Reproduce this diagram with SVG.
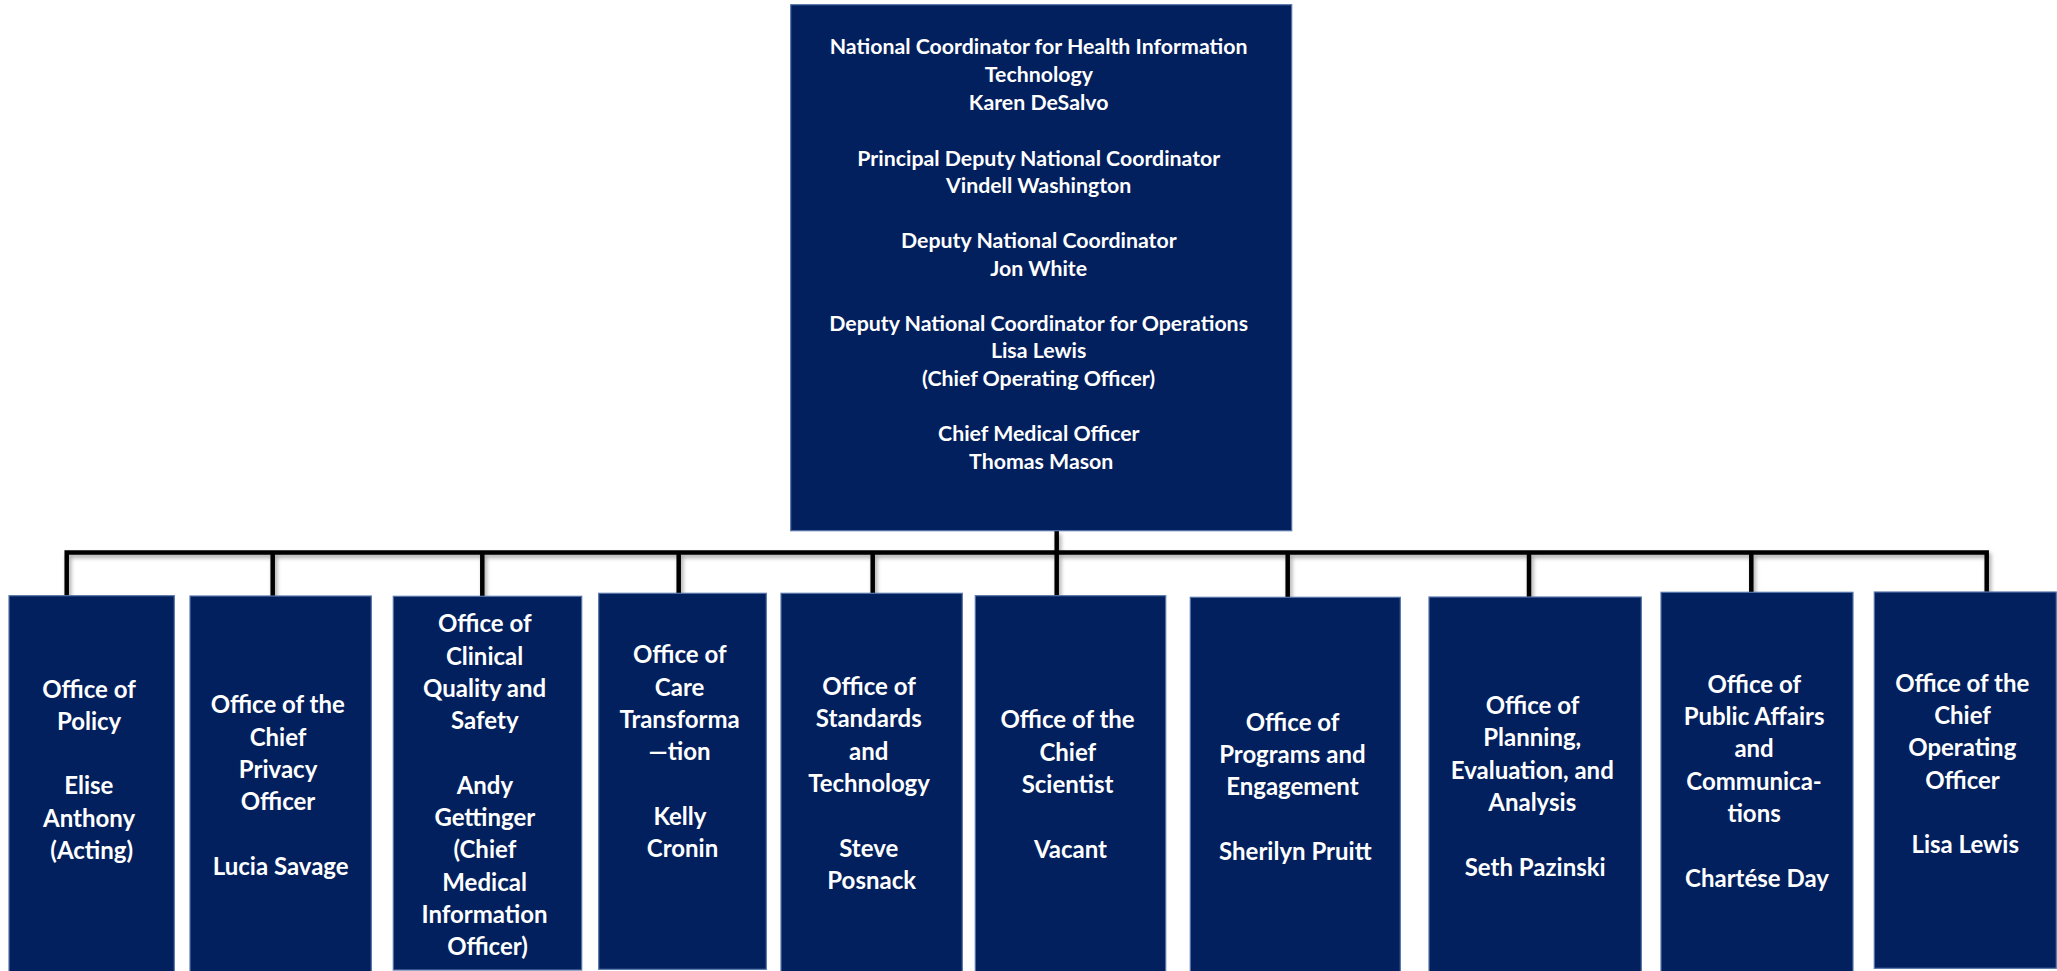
<svg xmlns="http://www.w3.org/2000/svg" width="2057" height="971" viewBox="0 0 2057 971">
<defs>
<style>
.box{fill:#02205d;stroke:#5574a8;stroke-width:1.2}
.t{font-family:Lato,"Open Sans","Liberation Sans",sans-serif;font-weight:bold;fill:#ffffff;text-anchor:middle}
.top{font-size:21.3px}
.ch{font-size:24px}
.conn{fill:none;stroke:#000000;stroke-width:4.5;stroke-linecap:butt;stroke-linejoin:miter}
</style>
<filter id="sh" x="-5%" y="-50%" width="110%" height="200%">
<feDropShadow dx="2" dy="3" stdDeviation="2" flood-color="#000000" flood-opacity="0.35"/>
</filter>
</defs>
<rect width="2057" height="971" fill="#ffffff"/>

<g id="connectors" filter="url(#sh)">
<path class="conn" d="M66.7 597 V552.5 H1986.7 V597"/>
<path class="conn" d="M1056.7 531 V597"/>
<path class="conn" d="M272.7 552.5 V597 M482.3 552.5 V597 M678.7 552.5 V595 M872.7 552.5 V595 M1287.7 552.5 V598 M1529 552.5 V598 M1751.3 552.5 V594"/>
</g>

<g id="top-node">
<rect class="box" x="790.7" y="4.7" width="501" height="526"/>
<text class="t top">
<tspan x="1041.2" y="54.3">National Coordinator for Health Information</tspan>
<tspan x="1041.2" y="82">Technology</tspan>
<tspan x="1041.2" y="109.5">Karen DeSalvo</tspan>
<tspan x="1041.2" y="165.5">Principal Deputy National Coordinator</tspan>
<tspan x="1041.2" y="193">Vindell Washington</tspan>
<tspan x="1041.2" y="248">Deputy National Coordinator</tspan>
<tspan x="1041.2" y="275.5">Jon White</tspan>
<tspan x="1041.2" y="330.5">Deputy National Coordinator for Operations</tspan>
<tspan x="1041.2" y="358">Lisa Lewis</tspan>
<tspan x="1041.2" y="385.5">(Chief Operating Officer)</tspan>
<tspan x="1041.2" y="441">Chief Medical Officer</tspan>
<tspan x="1041.2" y="468.5">Thomas Mason</tspan>
</text>
</g>

<g id="office-policy">
<rect class="box" x="9" y="595.7" width="165.3" height="380"/>
<text class="t ch">
<tspan x="91.7" y="697.5">Office of</tspan>
<tspan x="91.7" y="729.8">Policy</tspan>
<tspan x="91.7" y="794.4">Elise</tspan>
<tspan x="91.7" y="826.7">Anthony</tspan>
<tspan x="91.7" y="859">(Acting)</tspan>
</text>
</g>

<g id="office-privacy">
<rect class="box" x="190" y="596" width="181.3" height="380"/>
<text class="t ch">
<tspan x="280.7" y="713.3">Office of the</tspan>
<tspan x="280.7" y="745.6">Chief</tspan>
<tspan x="280.7" y="777.9">Privacy</tspan>
<tspan x="280.7" y="810.2">Officer</tspan>
<tspan x="280.7" y="874.8">Lucia Savage</tspan>
</text>
</g>

<g id="office-clinical">
<rect class="box" x="393.3" y="596.3" width="188.4" height="373.7"/>
<text class="t ch">
<tspan x="487.5" y="632.3">Office of</tspan>
<tspan x="487.5" y="664.6">Clinical</tspan>
<tspan x="487.5" y="696.9">Quality and</tspan>
<tspan x="487.5" y="729.2">Safety</tspan>
<tspan x="487.5" y="793.8">Andy</tspan>
<tspan x="487.5" y="826.1">Gettinger</tspan>
<tspan x="487.5" y="858.4">(Chief</tspan>
<tspan x="487.5" y="890.7">Medical</tspan>
<tspan x="487.5" y="923">Information</tspan>
<tspan x="487.5" y="955.3">Officer)</tspan>
</text>
</g>

<g id="office-care">
<rect class="box" x="598.7" y="593.3" width="167.6" height="376"/>
<text class="t ch">
<tspan x="682.5" y="663.3">Office of</tspan>
<tspan x="682.5" y="695.6">Care</tspan>
<tspan x="682.5" y="727.9">Transforma</tspan>
<tspan x="682.5" y="760.2">—tion</tspan>
<tspan x="682.5" y="824.8">Kelly</tspan>
<tspan x="682.5" y="857.1">Cronin</tspan>
</text>
</g>

<g id="office-standards">
<rect class="box" x="781" y="593.3" width="181.3" height="382"/>
<text class="t ch">
<tspan x="871.7" y="695">Office of</tspan>
<tspan x="871.7" y="727.3">Standards</tspan>
<tspan x="871.7" y="759.6">and</tspan>
<tspan x="871.7" y="791.9">Technology</tspan>
<tspan x="871.7" y="856.5">Steve</tspan>
<tspan x="871.7" y="888.8">Posnack</tspan>
</text>
</g>

<g id="office-scientist">
<rect class="box" x="975.3" y="595.7" width="190.4" height="380"/>
<text class="t ch">
<tspan x="1070.5" y="728.3">Office of the</tspan>
<tspan x="1070.5" y="760.6">Chief</tspan>
<tspan x="1070.5" y="792.9">Scientist</tspan>
<tspan x="1070.5" y="857.5">Vacant</tspan>
</text>
</g>

<g id="office-programs">
<rect class="box" x="1190.3" y="597.3" width="210" height="380"/>
<text class="t ch">
<tspan x="1295.3" y="730.7">Office of</tspan>
<tspan x="1295.3" y="763">Programs and</tspan>
<tspan x="1295.3" y="795.3">Engagement</tspan>
<tspan x="1295.3" y="859.9">Sherilyn Pruitt</tspan>
</text>
</g>

<g id="office-planning">
<rect class="box" x="1429" y="597" width="212.3" height="380"/>
<text class="t ch">
<tspan x="1535.2" y="714">Office of</tspan>
<tspan x="1535.2" y="746.3">Planning,</tspan>
<tspan x="1535.2" y="778.6">Evaluation, and</tspan>
<tspan x="1535.2" y="810.9">Analysis</tspan>
<tspan x="1535.2" y="875.5">Seth Pazinski</tspan>
</text>
</g>

<g id="office-public-affairs">
<rect class="box" x="1661" y="592.3" width="192" height="385"/>
<text class="t ch">
<tspan x="1757" y="692.7">Office of</tspan>
<tspan x="1757" y="725">Public Affairs</tspan>
<tspan x="1757" y="757.3">and</tspan>
<tspan x="1757" y="789.6">Communica-</tspan>
<tspan x="1757" y="821.9">tions</tspan>
<tspan x="1757" y="886.5">Chartése Day</tspan>
</text>
</g>

<g id="office-coo">
<rect class="box" x="1874.3" y="592" width="182" height="376.3"/>
<text class="t ch">
<tspan x="1965.2" y="691.7">Office of the</tspan>
<tspan x="1965.2" y="724">Chief</tspan>
<tspan x="1965.2" y="756.3">Operating</tspan>
<tspan x="1965.2" y="788.6">Officer</tspan>
<tspan x="1965.2" y="853.2">Lisa Lewis</tspan>
</text>
</g>
</svg>
